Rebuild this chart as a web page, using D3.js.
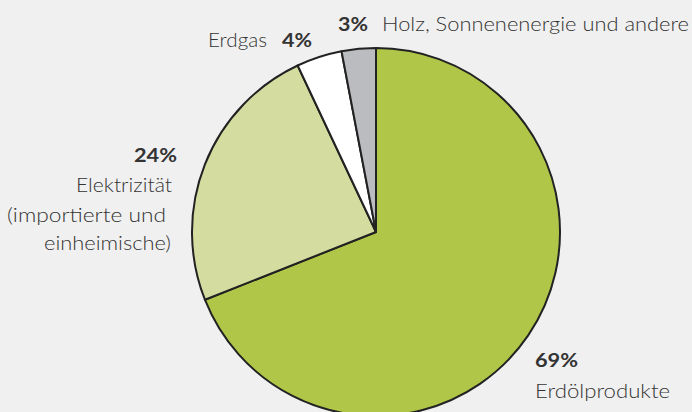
<!DOCTYPE html>
<html><head><meta charset="utf-8">
<script src="https://cdn.jsdelivr.net/npm/d3@7"></script>
<style>
html,body{margin:0;padding:0;background:#f0f0f0;}
svg{display:block;}
text{font-family:Lato,"Open Sans",sans-serif;fill:#333;}
</style></head><body>
<svg id="c" width="692" height="412"></svg>
<script>
const categories = ["Erdölprodukte", "Elektrizität (importierte und einheimische)", "Erdgas", "Holz, Sonnenenergie und andere"];
const values = [69, 24, 4, 3];
const colors = ["#afc648", "#d4dd9f", "#ffffff", "#bbbcbf"];

const svg = d3.select("#c");
const cx = 376, cy = 232, r = 184;
const g = svg.append("g").attr("transform", `translate(${cx},${cy})`);
const pie = d3.pie().sort(null).value(d => d)(values);
const arc = d3.arc().innerRadius(0).outerRadius(r);
g.selectAll("path").data(pie).enter().append("path")
  .attr("d", arc).attr("fill", (d,i) => colors[i])
  .attr("stroke", "#222").attr("stroke-width", 2).attr("stroke-linejoin", "round");

const fs = 19.5;
function lab(x, y, txt, bold, len, anchor) {
  const t = svg.append("text").attr("x", x).attr("y", y).attr("font-size", fs)
    .attr("font-weight", bold ? 700 : 300).attr("text-anchor", anchor || "start").text(txt);
  if (len) t.attr("textLength", len).attr("lengthAdjust", "spacingAndGlyphs");
  return t;
}
// Holz
lab(338, 31, values[3] + "%", true, 30);
lab(382, 31, "Holz, Sonnenenergie und andere", false, 307);
// Erdgas
lab(208, 47, "Erdgas", false, 59);
lab(282, 47, values[2] + "%", true, 30);
// Elektrizität
lab(134, 162, values[1] + "%", true, 43);
lab(76, 192, "Elektrizität", false, 96);
lab(7, 222, "(importierte und", false, 159);
lab(44, 250, "einheimische)", false, 127);
// Erdöl
lab(535, 367, values[0] + "%", true, 43);
lab(535, 398, "Erdölprodukte", false, 135);
</script></body></html>
